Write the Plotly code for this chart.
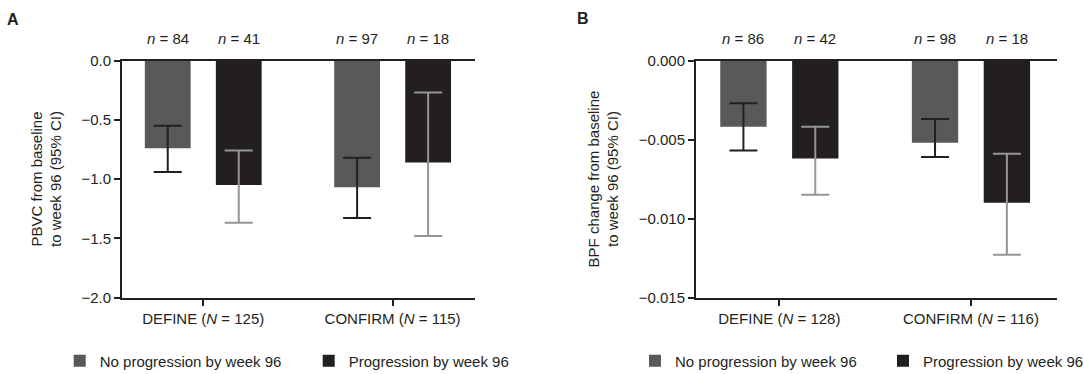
import plotly.graph_objects as go

# ---------------- data ----------------
categories = ["DEFINE", "CONFIRM"]
series_names = ["No progression by week 96", "Progression by week 96"]

# Panel A: PBVC
pbvc_N = [125, 115]
pbvc_n_no = [84, 97]
pbvc_n_prog = [41, 18]
pbvc_no_prog = [-0.74, -1.07]
pbvc_no_prog_lo = [-0.94, -1.33]
pbvc_no_prog_hi = [-0.55, -0.82]
pbvc_prog = [-1.05, -0.86]
pbvc_prog_lo = [-1.37, -1.48]
pbvc_prog_hi = [-0.76, -0.27]

# Panel B: BPF
bpf_N = [128, 116]
bpf_n_no = [86, 98]
bpf_n_prog = [42, 18]
bpf_no_prog = [-0.0042, -0.0052]
bpf_no_prog_lo = [-0.0057, -0.0061]
bpf_no_prog_hi = [-0.0027, -0.0037]
bpf_prog = [-0.0062, -0.0090]
bpf_prog_lo = [-0.0085, -0.0123]
bpf_prog_hi = [-0.0042, -0.0059]

# ---------------- style ----------------
W, H = 1084, 374
FONT = "Liberation Sans, Arial, Helvetica, sans-serif"
TXT = "#231f20"
C_NO = "#58595b"
C_PROG = "#231f20"
E_NO = "#231f20"
E_PROG = "#939598"
FS = 15

fig = go.Figure()


def add_bars(xa, ya, vals, lo, hi, color, ecolor, name, legend):
    fig.add_trace(go.Bar(
        x=categories, y=vals, name=name, xaxis=xa, yaxis=ya,
        marker=dict(color=color, line=dict(width=0)),
        error_y=dict(type="data", symmetric=False,
                     array=[h - v for h, v in zip(hi, vals)],
                     arrayminus=[v - l for v, l in zip(vals, lo)],
                     color=ecolor, thickness=2, width=14),
        legend=legend, showlegend=True, offsetgroup=name,
    ))


add_bars("x", "y", pbvc_no_prog, pbvc_no_prog_lo, pbvc_no_prog_hi, C_NO, E_NO, series_names[0], "legend")
add_bars("x", "y", pbvc_prog, pbvc_prog_lo, pbvc_prog_hi, C_PROG, E_PROG, series_names[1], "legend2")
add_bars("x2", "y2", bpf_no_prog, bpf_no_prog_lo, bpf_no_prog_hi, C_NO, E_NO, series_names[0], "legend3")
add_bars("x2", "y2", bpf_prog, bpf_prog_lo, bpf_prog_hi, C_PROG, E_PROG, series_names[1], "legend4")

ydom = [1 - 297.5 / H, 1 - 60.5 / H]
axis_common = dict(showline=True, linecolor=TXT, linewidth=2, ticks="outside",
                   ticklen=6, tickwidth=2, tickcolor=TXT, showgrid=False, zeroline=False,
                   automargin=False,
                   tickfont=dict(family=FONT, size=FS, color=TXT))


def legend_at(square_x):
    return dict(orientation="h", x=(square_x - 22) / W, xanchor="left", y=1 - 361 / H, yanchor="middle",
                font=dict(family=FONT, size=FS, color=TXT), bgcolor="rgba(0,0,0,0)", borderwidth=0)


fig.update_layout(
    template="none",
    width=W, height=H,
    margin=dict(l=0, r=0, t=0, b=0, pad=0, autoexpand=False),
    paper_bgcolor="white", plot_bgcolor="white",
    font=dict(family=FONT, size=FS, color=TXT),
    barmode="group", bargap=0.25, bargroupgap=0.355,
    xaxis=dict(domain=[122 / W, 475 / W], anchor="y", type="category",
               range=[-0.429, 1.435], mirror=True,
               tickvals=categories,
               ticktext=[f"{c} (<i>N</i> = {n})" for c, n in zip(categories, pbvc_N)],
               **axis_common),
    yaxis=dict(domain=ydom, anchor="x", range=[-2.0, 0.0], dtick=0.5, tickformat=".1f",
               title=dict(text="PBVC from baseline<br>to week 96 (95% CI)",
                          font=dict(family=FONT, size=FS, color=TXT), standoff=16),
               **axis_common),
    xaxis2=dict(domain=[696 / W, 1057 / W], anchor="y2", type="category",
                range=[-0.435, 1.449], mirror=True,
                tickvals=categories,
                ticktext=[f"{c} (<i>N</i> = {n})" for c, n in zip(categories, bpf_N)],
                **axis_common),
    yaxis2=dict(domain=ydom, anchor="x2", range=[-0.015, 0.0], dtick=0.005, tickformat=".3f",
                title=dict(text="BPF change from baseline<br>to week 96 (95% CI)",
                           font=dict(family=FONT, size=FS, color=TXT), standoff=16),
                **axis_common),
    legend=legend_at(81.7),
    legend2=legend_at(330.7),
    legend3=legend_at(657),
    legend4=legend_at(905),
)

# n labels above bars
annotations = []
n_y = 1 - 38.5 / H
for xref, n_no, n_prog in (("x", pbvc_n_no, pbvc_n_prog), ("x2", bpf_n_no, bpf_n_prog)):
    for i in range(len(categories)):
        for off, n in ((-0.1875, n_no[i]), (0.1875, n_prog[i])):
            annotations.append(dict(x=i + off, xref=xref, y=n_y, yref="paper",
                                    text=f"<i>n</i> = {n}", showarrow=False,
                                    xanchor="center", yanchor="middle",
                                    font=dict(family=FONT, size=FS, color=TXT)))

annotations.append(dict(x=13 / W, y=1 - 19.5 / H, xref="paper", yref="paper", text="<b>A</b>",
                        showarrow=False, xanchor="center", yanchor="middle",
                        font=dict(family=FONT, size=16, color=TXT)))
annotations.append(dict(x=583 / W, y=1 - 19 / H, xref="paper", yref="paper", text="<b>B</b>",
                        showarrow=False, xanchor="center", yanchor="middle",
                        font=dict(family=FONT, size=16, color=TXT)))
fig.update_layout(annotations=annotations)

# remove the default page margin so the figure sits at the window's top-left corner
fig.write_html("out.html",
               config={"displayModeBar": False},
               post_script="document.body.style.margin='0';document.body.style.overflow='hidden';")
